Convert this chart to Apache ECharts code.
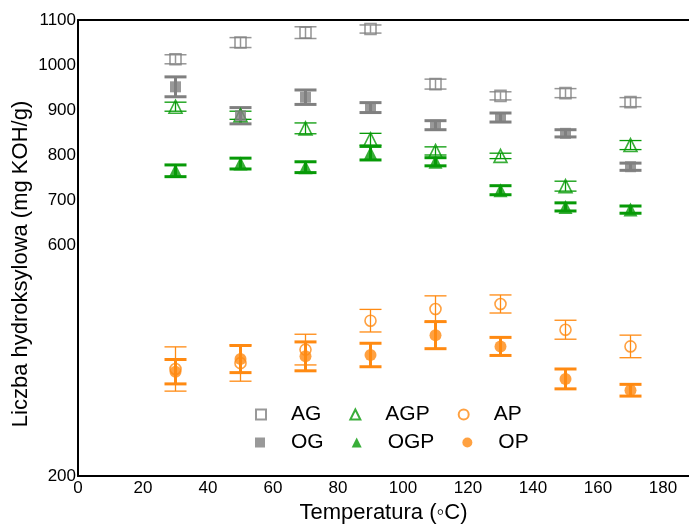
<!DOCTYPE html>
<html>
<head>
<meta charset="utf-8">
<script src="https://cdn.jsdelivr.net/npm/echarts@6/dist/echarts.min.js"></script>
<style>html,body{margin:0;padding:0;background:#fff}#c{width:689px;height:527px}</style>
</head>
<body>
<div id="c"></div>
<script>
// ---- data ----
var temps = [30, 50, 70, 90, 110, 130, 150, 170];
var AG = [1013, 1050, 1072, 1080, 958, 932, 938, 918];
var AG_err = [10, 11, 13, 9, 11, 9, 10, 10];
var OG = [952, 888, 929, 906, 867, 884, 849, 775];
var OG_err = [22, 18, 16, 11, 10, 10, 8, 8];
var AGP = [908, 889, 860, 836, 810, 799, 732, 823];
var AGP_err = [10, 9, 12, 13, 9, 6, 11, 10];
var OGP = [766, 782, 774, 805, 786, 723, 686, 680];
var OGP_err = [13, 12, 12, 15, 9, 10, 9, 8];
var AP = [327, 340, 370, 434, 460, 471, 414, 377];
var AP_err = [49, 40, 34, 25, 29, 20, 21, 25];
var OP = [321, 349, 355, 358, 402, 377, 305, 280];
var OP_err = [27, 30, 32, 26, 30, 20, 22, 13];
var xTicks = [0, 20, 40, 60, 80, 100, 120, 140, 160, 180];
var yTickValues = [90, 600, 700, 800, 900, 1000, 1100];
var yTickLabels = ['200', '600', '700', '800', '900', '1000', '1100'];

var GRAY = '#808080', GRAY_L = '#969696';
var GREEN = '#079a07';
var ORANGE = '#ff8a12';
var FONT = "'Liberation Sans', Arial, sans-serif";

function pts(v, e) { return temps.map(function (t, i) { return e ? [t, v[i], e[i]] : [t, v[i]]; }); }

function errSeries(name, v, e, color, lw) {
  return {
    type: 'custom', name: name, z: 2, silent: true,
    data: pts(v, e), encode: { x: 0, y: 1 },
    renderItem: function (params, api) {
      var x = api.value(0), y = api.value(1), er = api.value(2);
      var top = api.coord([x, y + er]), bot = api.coord([x, y - er]);
      var hw = 11;
      var st = { stroke: color, lineWidth: lw };
      return { type: 'group', children: [
        { type: 'line', shape: { x1: top[0], y1: top[1], x2: bot[0], y2: bot[1] }, style: st },
        { type: 'line', shape: { x1: top[0] - hw, y1: top[1], x2: top[0] + hw, y2: top[1] }, style: st },
        { type: 'line', shape: { x1: bot[0] - hw, y1: bot[1], x2: bot[0] + hw, y2: bot[1] }, style: st }
      ]};
    }
  };
}

function scat(name, v, symbol, size, color, open) {
  return {
    type: 'scatter', name: name, z: open ? 3 : 4, data: pts(v), symbol: symbol, symbolSize: size,
    itemStyle: open ? { color: 'rgba(255,255,255,0)', borderColor: color, borderWidth: 1.6 } : { color: color },
    emphasis: { disabled: true }
  };
}

var chart = echarts.init(document.getElementById('c'), null, { renderer: 'canvas' });
chart.setOption({
  animation: false,
  backgroundColor: '#fff',
  textStyle: { fontFamily: FONT },
  grid: { left: 78, right: 0, top: 20, bottom: 51, show: false,
          outerBoundsMode: 'none', containLabel: false },
  xAxis: [{
    type: 'value', min: 0, max: 188,
    name: 'Temperatura (\u25E6C)', nameLocation: 'middle', nameGap: 23,
    nameTextStyle: { fontSize: 22, color: '#000', fontFamily: FONT },
    axisLine: { lineStyle: { color: '#000', width: 2 } },
    axisTick: { show: false }, splitLine: { show: false },
    axisLabel: { customValues: xTicks, fontSize: 17, color: '#000', margin: 4, fontFamily: FONT }
  }, {
    type: 'value', min: 0, max: 188, position: 'top',
    axisLine: { show: true, lineStyle: { color: '#000', width: 2 } },
    axisTick: { show: false }, splitLine: { show: false }, axisLabel: { show: false }
  }],
  yAxis: {
    type: 'value', min: 90, max: 1100,
    name: 'Liczba hydroksylowa (mg KOH/g)', nameLocation: 'middle', nameGap: 46, nameMoveOverlap: false,
    nameTextStyle: { fontSize: 22, color: '#000', fontFamily: FONT, padding: [0, 32, 0, 0] },
    axisLine: { show: true, lineStyle: { color: '#000', width: 2 } },
    axisTick: { show: false }, splitLine: { show: false },
    axisLabel: {
      customValues: yTickValues, fontSize: 17, color: '#000', margin: 2, fontFamily: FONT,
      formatter: function (v) { var i = yTickValues.indexOf(v); return i >= 0 ? yTickLabels[i] : ''; }
    }
  },
  legend: [
    { data: ['AG', 'AGP', 'AP'], left: 250, top: 399, itemWidth: 10, itemHeight: 10, itemGap: 28,
      textStyle: { fontSize: 21, color: '#000', padding: [0, 0, 0, 20], fontFamily: FONT }, selectedMode: false },
    { data: ['OG', 'OGP', 'OP'], left: 250, top: 427, itemWidth: 10, itemHeight: 10, itemGap: 28,
      textStyle: { fontSize: 21, color: '#000', padding: [0, 0, 0, 21], fontFamily: FONT }, selectedMode: false }
  ],
  series: [
    errSeries('AG-err', AG, AG_err, GRAY_L, 1.5),
    errSeries('AGP-err', AGP, AGP_err, GREEN, 1.3),
    errSeries('AP-err', AP, AP_err, ORANGE, 1.3),
    errSeries('OG-err', OG, OG_err, GRAY, 3),
    errSeries('OGP-err', OGP, OGP_err, GREEN, 3),
    errSeries('OP-err', OP, OP_err, ORANGE, 3),
    scat('AG', AG, 'rect', 11, GRAY, true),
    scat('AGP', AGP, 'triangle', 13, GREEN, true),
    scat('AP', AP, 'circle', 11, ORANGE, true),
    scat('OG', OG, 'rect', 11, GRAY, false),
    scat('OGP', OGP, 'triangle', 14, GREEN, false),
    scat('OP', OP, 'circle', 12, ORANGE, false)
  ]
});
</script>
</body>
</html>
